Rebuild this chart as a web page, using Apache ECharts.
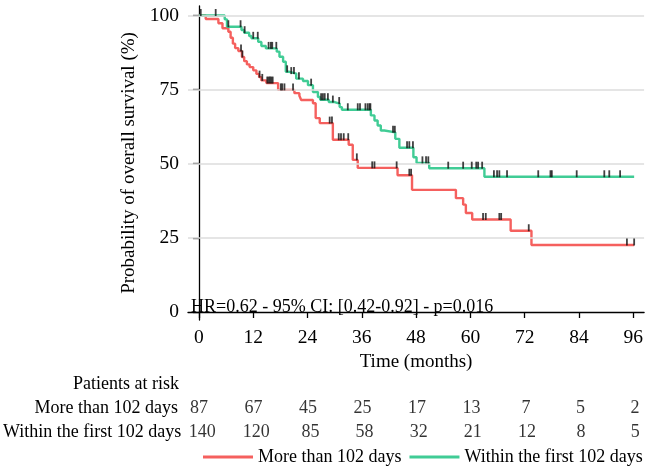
<!DOCTYPE html>
<html><head><meta charset="utf-8">
<script src="https://cdn.jsdelivr.net/npm/echarts@6/dist/echarts.min.js"></script>
<style>html,body{margin:0;padding:0;background:#fff}#c{width:646px;height:469px}</style>
</head><body><div id="c"></div>
<script>
const groupNames = ['More than 102 days', 'Within the first 102 days'];
const xTicks = [0, 12, 24, 36, 48, 60, 72, 84, 96];
const yTicks = [0, 25, 50, 75, 100];
const gridLevels = [25, 50, 75, 100];

// Kaplan-Meier steps [months, survival %]
const stepsLate = [
  [0,100],[1.5,98.8],[4.3,97.4],[5.2,95.7],[6.5,94.5],[7.0,92.5],[7.5,90.5],[8.0,89.0],
  [8.7,88.0],[9.5,86.0],[10.0,84.6],[10.6,83.5],[11.2,82.6],[12.0,81.5],[12.7,80.3],
  [13.3,79.2],[13.8,78.1],[14.9,77.2],[17.5,74.9],[21.1,73.8],[22.2,72.9],[22.6,71.5],
  [25.2,70.4],[25.8,65.4],[26.7,63.7],[29.6,58.1],[33.1,56.4],[34.0,51.3],[35.1,48.6],
  [43.9,46.1],[47.1,41.2],[56.8,38.4],[58.4,36.2],[59.0,33.4],[60.4,31.2],[68.9,27.4],
  [73.5,22.6],[96.2,22.6]
];
const stepsEarly = [
  [0,100],[5.7,98.7],[6.2,96.2],[9.4,95.1],[10.0,94.2],[11.1,93.1],[11.6,92.3],[13.1,91.1],
  [13.8,89.7],[14.8,88.9],[17.2,87.8],[17.8,86.1],[18.6,84.4],[19.2,81.0],[20.0,80.4],
  [21.5,78.7],[23.0,77.9],[24.1,76.5],[25.2,74.2],[26.3,72.5],[26.8,71.6],[28.7,70.8],
  [30.0,70.3],[31.1,69.1],[31.6,68.2],[38.0,66.3],[38.8,64.6],[39.5,62.9],[40.2,61.2],
  [41.0,60.6],[43.4,58.4],[44.3,55.4],[47.4,52.2],[48.1,50.3],[50.9,48.5],[63.1,45.6],
  [96.2,45.6]
];
// censoring times (months)
const censLate = [9.3,9.6,13.4,14.0,15.1,15.4,15.7,16.0,16.3,18.1,18.4,18.9,20.8,28.9,29.4,
  30.9,31.4,32.0,33.0,34.9,38.3,38.8,43.7,46.5,46.9,62.8,63.4,66.4,66.8,72.9,94.6,96.2];
const censEarly = [0.4,3.7,6.5,9.2,10.1,12.0,13.0,15.4,15.9,16.2,17.1,19.5,20.4,21.0,22.1,24.8,
  27.0,27.4,27.8,28.5,29.6,31.0,32.9,35.1,35.6,36.8,37.3,37.7,37.9,42.9,43.3,46.0,46.5,47.3,
  49.4,50.2,50.7,55.1,58.4,60.3,61.3,61.7,62.6,65.2,65.9,66.4,68.1,75.0,77.7,78.0,83.5,89.6,90.7,93.1];
// patients at risk
const riskLate = [87, 67, 45, 25, 17, 13, 7, 5, 2];
const riskEarly = [140, 120, 85, 58, 32, 21, 12, 8, 5];
const hrText = 'HR=0.62 - 95% CI: [0.42-0.92] - p=0.016';

const colors = ['#F5605E', '#40CC95'];
const FONT = 'Liberation Serif';
const FS_TICK = 19.5, FS_NAME = 19, FS = 18;

function levelAt(steps, t) {
  let v = steps[0][1];
  for (const p of steps) { if (p[0] <= t) v = p[1]; else break; }
  return v;
}
const xMin = -2.42, xMax = 98.4;
const L = 188, W = 458;

const chart = echarts.init(document.getElementById('c'), null, {renderer: 'canvas'});
const hiddenX = (gi) => ({gridIndex: gi, type: 'value', min: xMin, max: xMax, show: false});
const riskY = (gi, label) => ({
  gridIndex: gi, type: 'category', data: [label],
  axisLine: {show: false}, axisTick: {show: false}, splitLine: {show: false},
  axisLabel: {margin: 10, color: '#000', fontSize: FS, fontFamily: FONT}
});
const riskSeries = (gi, label, vals) => ({
  type: 'scatter', xAxisIndex: gi, yAxisIndex: gi, silent: true,
  symbolSize: 2, itemStyle: {color: 'rgba(0,0,0,0)'},
  data: xTicks.map((t, i) => ({value: [t, 0], risk: vals[i]})),
  label: {show: true, position: 'inside', formatter: p => String(p.data.risk),
    color: '#000', fontSize: FS, fontFamily: FONT}
});

chart.setOption({
  animation: false,
  textStyle: {fontFamily: FONT},
  grid: [
    {left: L, top: 6, width: W, height: 314},
    {left: L, top: 398, width: W, height: 20},
    {left: L, top: 422, width: W, height: 20}
  ],
  xAxis: [
    {gridIndex: 0, type: 'value', min: xMin, max: xMax,
     axisLine: {show: true, lineStyle: {color: '#000', width: 1.3}},
     axisTick: {show: true, customValues: xTicks, length: 6, lineStyle: {color: '#000', width: 1.3}},
     axisLabel: {customValues: xTicks, color: '#000', fontSize: FS_TICK, fontFamily: FONT, margin: 8},
     splitLine: {show: false},
     name: 'Time (months)', nameLocation: 'middle', nameGap: 28,
     nameTextStyle: {color: '#000', fontSize: FS_NAME, fontFamily: FONT}},
    hiddenX(1), hiddenX(2)
  ],
  yAxis: [
    {gridIndex: 0, type: 'value', min: -2.7, max: 103.2,
     axisLine: {show: true, lineStyle: {color: '#000', width: 1.3}},
     axisTick: {show: true, customValues: yTicks, length: 6, lineStyle: {color: '#000', width: 1.3}},
     axisLabel: {customValues: yTicks, color: '#000', fontSize: FS_TICK, fontFamily: FONT, margin: 9},
     splitLine: {show: false},
     name: 'Probability of overall survival (%)', nameLocation: 'middle', nameGap: 48, nameRotate: 90,
     nameTextStyle: {color: '#000', fontSize: FS_NAME, fontFamily: FONT}},
    riskY(1, groupNames[0]), riskY(2, groupNames[1])
  ],
  legend: {
    data: groupNames, left: 203, top: 448, width: 443, padding: 0,
    itemWidth: 50, itemHeight: 3, itemGap: 8,
    icon: 'rect', textStyle: {color: '#000', fontSize: FS, fontFamily: FONT}, selectedMode: false
  },
  graphic: [
    {type: 'text', right: 646 - 179, top: 375,
     style: {text: 'Patients at risk', fill: '#000', fontSize: FS, fontFamily: FONT}},
    {type: 'text', left: 191, top: 298, z: 10,
     style: {text: hrText, fill: '#000', fontSize: FS, fontFamily: FONT}}
  ],
  series: [
    {type: 'line', name: '_grid', xAxisIndex: 0, yAxisIndex: 0, data: [], silent: true,
     markLine: {silent: true, symbol: 'none', label: {show: false},
       lineStyle: {color: '#dcdcdc', width: 1.6, type: 'solid'},
       data: gridLevels.map(v => ({yAxis: v}))}},
    {type: 'line', name: groupNames[0], step: 'end', data: stepsLate, showSymbol: false,
     color: colors[0], lineStyle: {width: 2.4, color: colors[0]}, z: 3},
    {type: 'line', name: groupNames[1], step: 'end', data: stepsEarly, showSymbol: false,
     color: colors[1], lineStyle: {width: 2.4, color: colors[1]}, z: 4},
    {type: 'scatter', name: 'censLate', data: censLate.map(t => [t, levelAt(stepsLate, t)]),
     symbol: 'rect', symbolSize: [1.8, 7], symbolOffset: [0, -3], itemStyle: {color: '#111'}, z: 5, silent: true},
    {type: 'scatter', name: 'censEarly', data: censEarly.map(t => [t, levelAt(stepsEarly, t)]),
     symbol: 'rect', symbolSize: [1.8, 7], symbolOffset: [0, -3], itemStyle: {color: '#111'}, z: 5, silent: true},
    riskSeries(1, groupNames[0], riskLate),
    riskSeries(2, groupNames[1], riskEarly)
  ]
});
</script></body></html>
